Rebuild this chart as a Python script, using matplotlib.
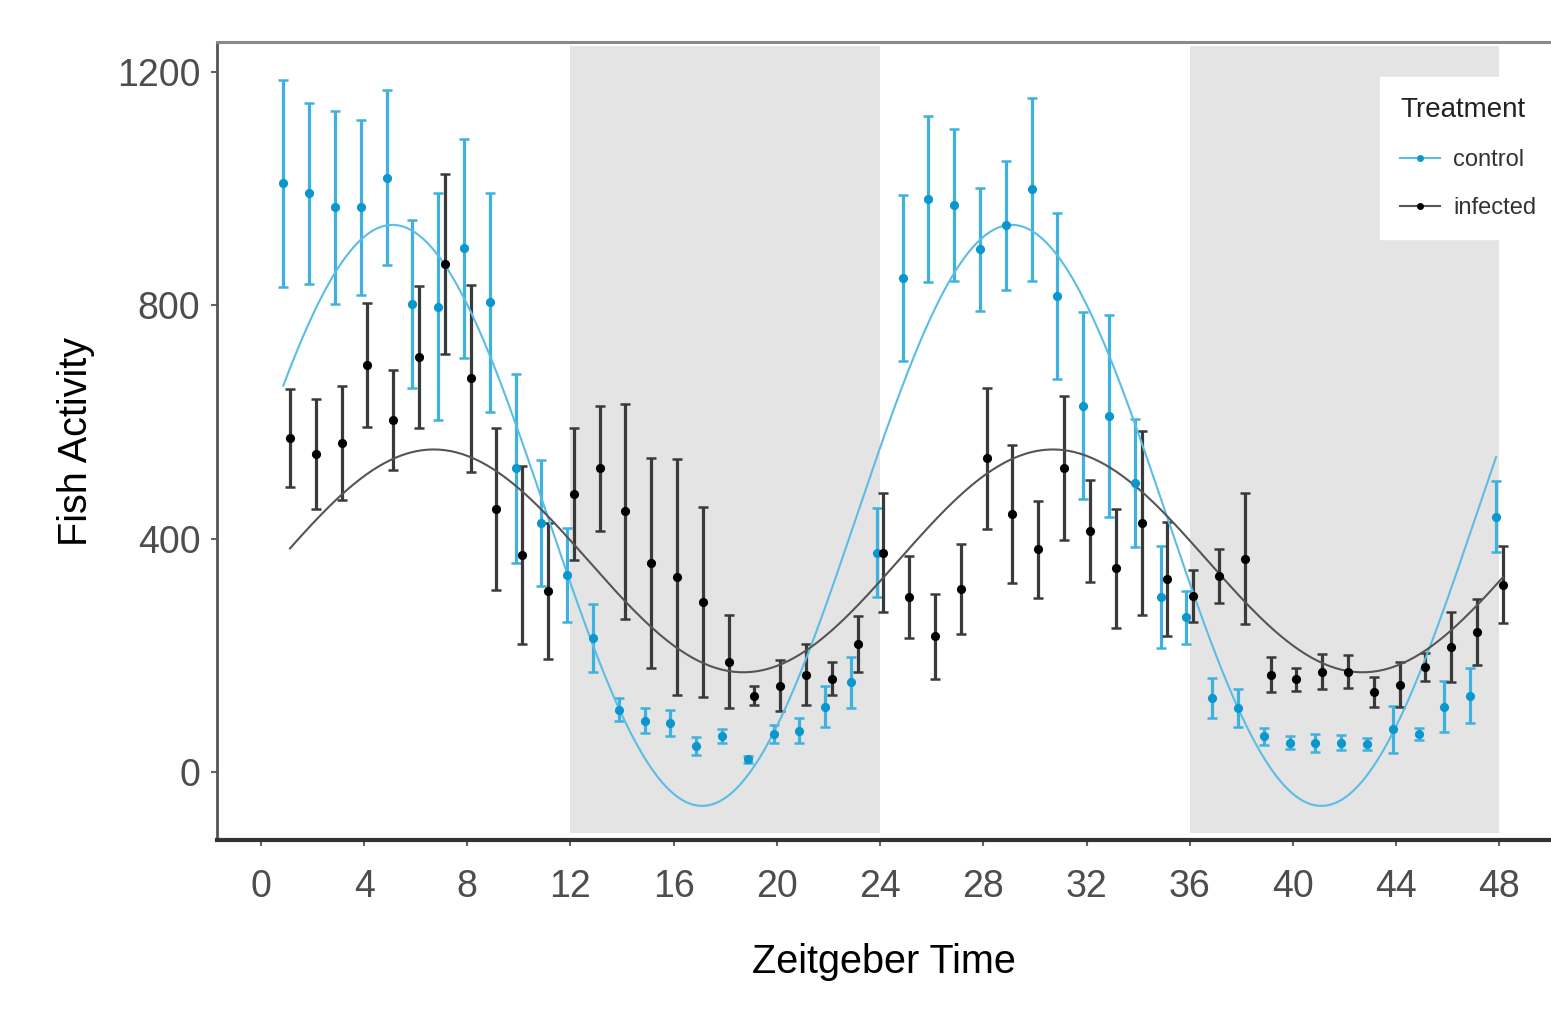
import numpy as np
import matplotlib
matplotlib.use('Agg')
import matplotlib.pyplot as plt
from matplotlib.lines import Line2D

plt.rcParams['font.family'] = ['Liberation Sans', 'DejaVu Sans']

# Hourly means and standard errors (Zeitgeber hour 1..48)
hours = np.arange(1, 49)

control_mean = [1009, 992, 968, 968, 1019, 803, 798, 898, 805, 521, 427, 338,
                230, 107, 88, 84, 45, 62, 22, 65, 71, 112, 154, 376,
                847, 982, 972, 896, 937, 999, 816, 628, 611, 496, 300, 265,
                127, 110, 61, 50, 50, 50, 48, 73, 65, 112, 131, 438]
control_se = [178, 155, 166, 150, 150, 144, 195, 188, 187, 162, 108, 80,
              58, 20, 21, 22, 15, 12, 6, 16, 22, 35, 44, 76,
              142, 142, 130, 106, 110, 157, 143, 160, 173, 110, 88, 45,
              35, 33, 14, 11, 16, 13, 11, 41, 10, 44, 47, 61]

infected_mean = [572, 545, 564, 698, 604, 711, 871, 675, 451, 372, 310, 476,
                 521, 447, 359, 334, 291, 189, 131, 148, 167, 160, 220, 376,
                 300, 233, 314, 538, 442, 382, 521, 413, 349, 427, 331, 302,
                 336, 366, 167, 159, 172, 172, 137, 150, 180, 214, 240, 321]
infected_se = [84, 94, 97, 106, 86, 122, 155, 160, 139, 152, 117, 113,
               107, 184, 180, 202, 163, 80, 16, 44, 52, 28, 48, 102,
               71, 73, 77, 121, 118, 83, 124, 88, 102, 157, 97, 44,
               46, 113, 30, 20, 30, 28, 26, 38, 24, 60, 57, 66]

# cosinor fit parameters (mesor, amplitude, acrophase in h), period 24 h
control_fit = (440, 498, 5.1)
infected_fit = (362, 191, 6.7)

dark_periods = [(12, 24), (36, 48)]

groups = [('control', control_mean, control_se, control_fit, -0.13,
           '#0a96cf', '#3fb1de', '#5bbde4'),
          ('infected', infected_mean, infected_se, infected_fit, 0.13,
           '#000000', '#3a3a3a', '#555555')]

fig = plt.figure(figsize=(15.51, 10.25), dpi=100)
ax = fig.add_axes([217/1551, 1 - 840/1025, 1 - 217/1551, (840 - 42)/1025])

for x0, x1 in dark_periods:
    ax.fill_between([x0, x1], -104, 1244, color='#e4e4e4', lw=0, zorder=0)

handles = []
for name, mean, se, fit, dx, pcol, ecol, lcol in groups:
    x = hours + dx
    ax.errorbar(x, mean, yerr=se, fmt='none', ecolor=ecol, elinewidth=2.3,
                capsize=3.8, capthick=1.8, zorder=2)
    # fitted cosinor curve, evaluated over the sampled range
    mesor, amp, phi = fit
    xf = np.linspace(x[0], x[-1], 400)
    yfit = mesor + amp * np.cos(2 * np.pi * (xf - phi) / 24)
    ax.plot(xf, yfit, color=lcol, lw=1.5, zorder=3)
    ax.plot(x, mean, 'o', color=pcol, ms=6.6, mew=0, zorder=4)
    handles.append(Line2D([], [], color=lcol, lw=1.5, marker='o', ms=5,
                          markerfacecolor=pcol, markeredgewidth=0, label=name))

ax.set_xlim(-1.7, 50.0)
ax.set_ylim(-116.5, 1251.5)
ax.set_xticks(np.arange(0, 49, 4))
ax.set_yticks([0, 400, 800, 1200])

ax.spines['right'].set_visible(False)
ax.spines['left'].set_color('#555555')
ax.spines['left'].set_linewidth(2.0)
ax.spines['bottom'].set_color('#333333')
ax.spines['bottom'].set_linewidth(3.0)
ax.spines['top'].set_color('#8a8a8a')
ax.spines['top'].set_linewidth(2.2)

ax.tick_params(axis='both', colors='#666666', length=4, width=1.5,
               labelcolor='#4d4d4d', labelsize=27)
ax.tick_params(axis='x', pad=17)
ax.tick_params(axis='y', pad=8)

ax.set_xlabel('Zeitgeber Time', fontsize=28.5, color='black', labelpad=27)
ax.set_ylabel('Fish Activity', fontsize=28.5, color='black', labelpad=16)

leg = ax.legend(handles=handles, title='Treatment', loc='upper left',
                bbox_to_anchor=(0.872, 0.956), borderaxespad=0,
                frameon=True, fancybox=False, framealpha=1,
                edgecolor='white', facecolor='white',
                fontsize=17, title_fontsize=20, alignment='left',
                handlelength=1.7, handletextpad=0.55,
                labelspacing=1.1, borderpad=0.85)
for t in leg.get_texts():
    t.set_color('#333333')
leg.get_title().set_color('#222222')
leg.set_zorder(5)

fig.savefig('out.png', dpi=100)
